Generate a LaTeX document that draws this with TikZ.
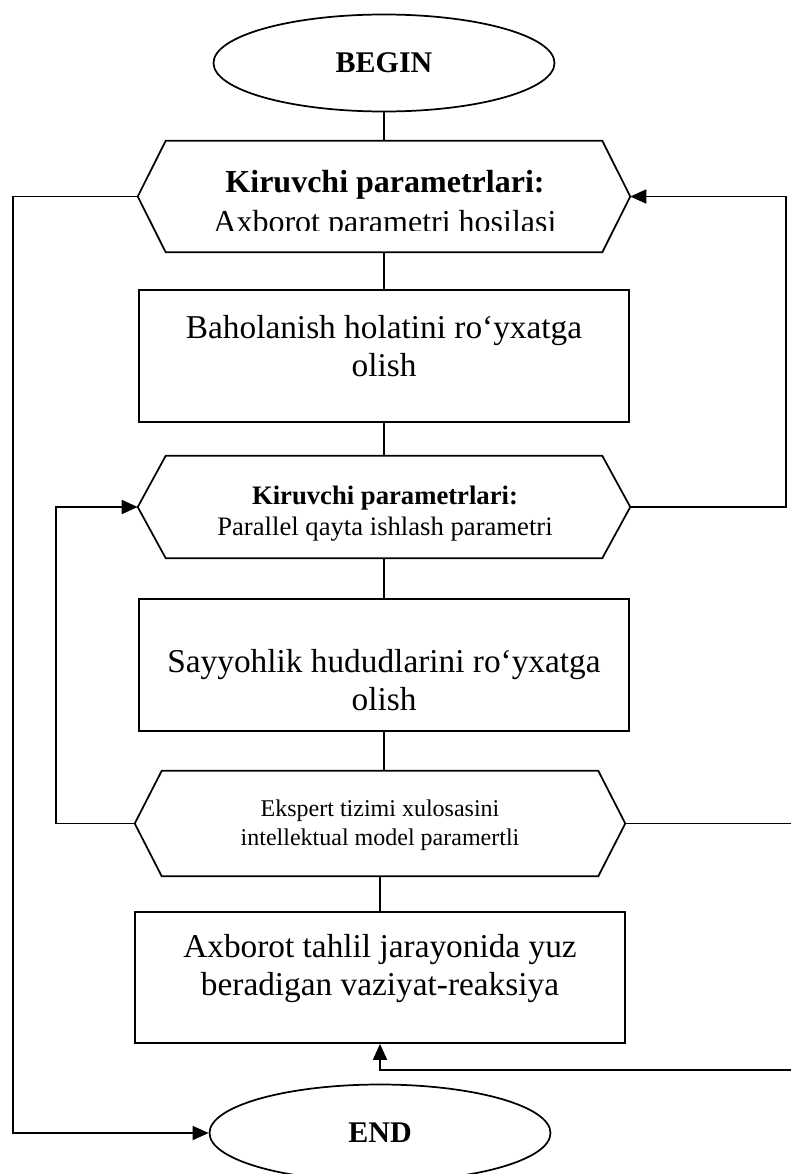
\documentclass[tikz,border=0pt]{standalone}
\usepackage{fontspec}
\setmainfont{Liberation Serif}
\usetikzlibrary{shapes.geometric,arrows.meta,calc}
\begin{document}
\begin{tikzpicture}[x=0.75pt,y=-0.75pt,
  line/.style={line width=1.3pt, line join=miter},
  arr/.style={line, -{Triangle[length=12pt,width=10.5pt]}},
  term/.style={ellipse, draw, line width=1.3pt, inner sep=0pt,
    minimum width=255.75pt, minimum height=72.75pt,
    font=\fontsize{22.5}{27}\selectfont\bfseries},
  procbox/.style={rectangle, draw, line width=1.3pt, inner sep=0pt,
    minimum width=367.5pt, minimum height=99pt},
  proctext/.style={inner sep=0pt, align=center,
    font=\fontsize{25}{28.5}\selectfont},
  hexcore/.style={rectangle, inner sep=0pt, minimum width=327pt},
  hextext/.style={inner sep=0pt, align=center}
]
\useasboundingbox[fill=white] (0,0) rectangle (790,1174);

% terminals
\node[term] (begin) at (384,63) {BEGIN};
\node[term] (end) at (380,1133) {END};

% hexagon 1
\node[hexcore, minimum height=83.25pt] (h1) at (384,196.5) {};
\coordinate (h1l) at ($(h1.west)+(-28,0)$);
\coordinate (h1r) at ($(h1.east)+(28,0)$);
\draw[line] (h1.north west) -- (h1.north east) -- (h1r) -- (h1.south east)
  -- (h1.south west) -- (h1l) -- cycle;
\begin{scope}
  \clip (0,0) rectangle (790,230);
  \node[hextext, font=\fontsize{24}{30}\selectfont] (t1) at (385,205)
    {\textbf{Kiruvchi parametrlari:}\\Axborot parametri hosilasi};
\end{scope}

% rectangle 1
\node[procbox] (r1) at (384,356) {};
\node[proctext] (r1t) at (384,346.5) {Baholanish holatini ro‘yxatga\\olish};

% hexagon 2
\node[hexcore, minimum height=76.5pt] (h2) at (384,507) {};
\coordinate (h2l) at ($(h2.west)+(-28,0)$);
\coordinate (h2r) at ($(h2.east)+(28,0)$);
\draw[line] (h2.north west) -- (h2.north east) -- (h2r) -- (h2.south east)
  -- (h2.south west) -- (h2l) -- cycle;
\node[hextext, font=\fontsize{20}{23.25}\selectfont] (t2) at (385,514)
  {\textbf{Kiruvchi parametrlari:}\\Parallel qayta ishlash parametri};

% rectangle 2
\node[procbox] (r2) at (384,665) {};
\node[proctext] (r2t) at (384,680) {Sayyohlik hududlarini ro‘yxatga\\olish};

% hexagon 3
\node[hexcore, minimum height=78.75pt] (h3) at (380,823.5) {};
\coordinate (h3l) at ($(h3.west)+(-27,0)$);
\coordinate (h3r) at ($(h3.east)+(27,0)$);
\draw[line] (h3.north west) -- (h3.north east) -- (h3r) -- (h3.south east)
  -- (h3.south west) -- (h3l) -- cycle;
\node[hextext, font=\fontsize{18}{21.75}\selectfont] (t3) at (380,825)
  {Ekspert tizimi xulosasini\\intellektual model paramertli};

% rectangle 3
\node[procbox, minimum height=98.25pt] (r3) at (380,977.5) {};
\node[proctext] (r3t) at (380,968.5)
  {Axborot tahlil jarayonida yuz\\beradigan vaziyat-reaksiya};

% main flow
\draw[line] (begin.south) -- (h1.north);
\draw[line] (h1.south) -- (r1.north);
\draw[line] (r1.south) -- (h2.north);
\draw[line] (h2.south) -- (r2.north);
\draw[line] (r2.south) -- (r2.south |- h3.north);
\draw[line] (h3.south) -- (r3.north);

% loops
\coordinate (lft) at (13,0);
\coordinate (lft2) at (56,0);
\coordinate (rgt) at (786,0);
\coordinate (rgt2) at (800,0);
\coordinate (ret) at (0,1070);
\draw[arr] (h1l) -- (h1l -| lft) -- (lft |- end) -- (end.west);
\draw[arr] (h2r) -- (h2r -| rgt) -- (rgt |- h1r) -- (h1r);
\draw[arr] (h3l) -- (h3l -| lft2) -- (lft2 |- h2l) -- (h2l);
\draw[arr] (h3r) -- (h3r -| rgt2) -- (rgt2 |- ret) -- (ret -| r3.south) -- (r3.south);
\end{tikzpicture}
\end{document}
